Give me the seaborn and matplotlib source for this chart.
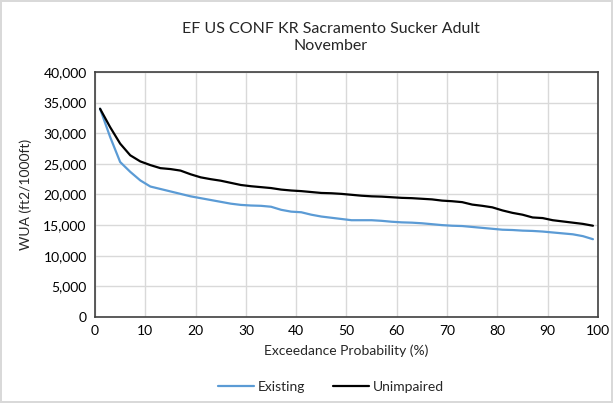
import numpy as np
import pandas as pd
import matplotlib
matplotlib.use("Agg")
import matplotlib.pyplot as plt
import matplotlib.ticker as mticker
import seaborn as sns

sns.set_theme(style="white")
plt.rcParams["font.family"] = ["Lato", "DejaVu Sans"]

# exceedance probability (%)
exceedance = list(range(1, 100, 2))

existing = [34000, 29400, 25300, 23700, 22300, 21300, 20900, 20500, 20100, 19700,
            19400, 19100, 18800, 18500, 18300, 18200, 18150, 18000, 17500, 17200,
            17100, 16700, 16400, 16200, 16000, 15800, 15800, 15800, 15700, 15550,
            15450, 15400, 15300, 15150, 15000, 14900, 14850, 14700, 14550, 14400,
            14250, 14200, 14100, 14050, 13950, 13800, 13650, 13500, 13200, 12700]

unimpaired = [34000, 31000, 28300, 26400, 25400, 24800, 24300, 24150, 23900, 23300,
              22800, 22500, 22250, 21900, 21550, 21350, 21200, 21050, 20800, 20650,
              20550, 20400, 20250, 20200, 20100, 19950, 19800, 19700, 19650, 19550,
              19450, 19400, 19300, 19200, 19000, 18900, 18750, 18350, 18150, 17900,
              17400, 17000, 16700, 16250, 16150, 15800, 15600, 15400, 15200, 14900]

series_names = ["Existing", "Unimpaired"]
colors = {"Existing": "#5B9BD5", "Unimpaired": "#000000"}

df = pd.DataFrame({
    "Exceedance": exceedance * 2,
    "WUA": existing + unimpaired,
    "Series": ["Existing"] * len(existing) + ["Unimpaired"] * len(unimpaired),
})

fig = plt.figure(figsize=(6.13, 4.03), dpi=100)
fig.patch.set_edgecolor("#D9D9D9")
fig.patch.set_linewidth(1.5)
ax = fig.add_axes([0.155, 0.2134, 0.8205, 0.608])

sns.lineplot(data=df, x="Exceedance", y="WUA", hue="Series", hue_order=series_names,
             palette=colors, linewidth=1.6, ax=ax, legend=False)

ax.set_xlim(0, 100)
ax.set_ylim(0, 40000)
ax.xaxis.set_major_locator(mticker.MultipleLocator(10))
ax.yaxis.set_major_locator(mticker.MultipleLocator(5000))
ax.yaxis.set_major_formatter(mticker.StrMethodFormatter("{x:,.0f}"))
ax.grid(True, color="#D9D9D9", linewidth=1)
ax.tick_params(labelsize=10, colors="#000000", length=0, pad=6)
for s in ax.spines.values():
    s.set_color("#404040")
    s.set_linewidth(1.2)

ax.set_xlabel("Exceedance Probability (%)", fontsize=10, labelpad=5)
ax.set_ylabel("WUA (ft2/1000ft)", fontsize=10, labelpad=8)
fig.text(0.54, 0.907, "EF US CONF KR Sacramento Sucker Adult\nNovember",
         ha="center", va="center", fontsize=11.5, linespacing=1.3)

handles = [plt.Line2D([], [], color=colors[n], linewidth=1.6) for n in series_names]
fig.legend(handles, series_names, loc="center", bbox_to_anchor=(0.54, 0.04), ncol=2,
           frameon=False, fontsize=10, handlelength=2.6, columnspacing=2.0, handletextpad=0.3)

fig.savefig("out.png", dpi=100)
